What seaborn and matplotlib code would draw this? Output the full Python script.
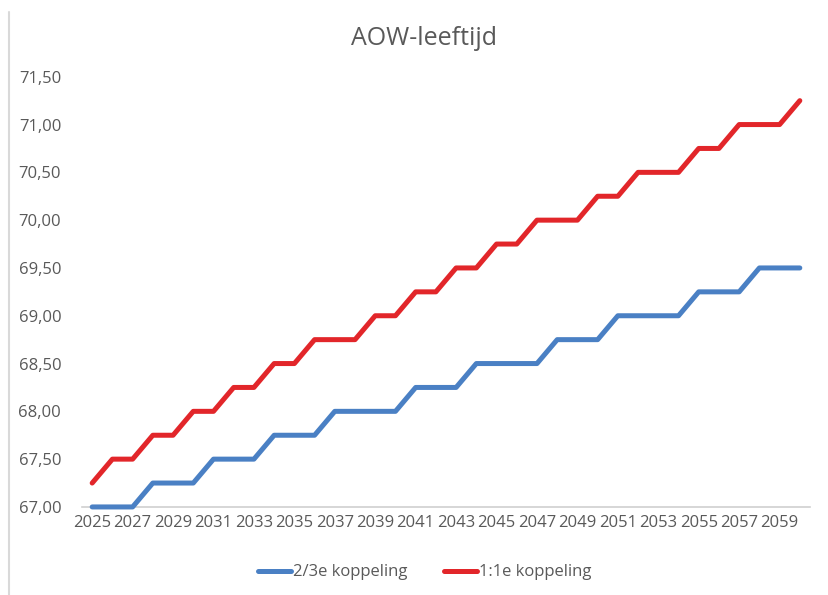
import matplotlib
matplotlib.use('Agg')
import matplotlib.pyplot as plt
import matplotlib.lines as mlines
import seaborn as sns
import pandas as pd

years = list(range(2025, 2061))

koppeling_2_3 = [67.00, 67.00, 67.00, 67.25, 67.25, 67.25, 67.50, 67.50, 67.50,
                 67.75, 67.75, 67.75, 68.00, 68.00, 68.00, 68.00, 68.25, 68.25,
                 68.25, 68.50, 68.50, 68.50, 68.50, 68.75, 68.75, 68.75, 69.00,
                 69.00, 69.00, 69.00, 69.25, 69.25, 69.25, 69.50, 69.50, 69.50]

koppeling_1_1 = [67.25, 67.50, 67.50, 67.75, 67.75, 68.00, 68.00, 68.25, 68.25,
                 68.50, 68.50, 68.75, 68.75, 68.75, 69.00, 69.00, 69.25, 69.25,
                 69.50, 69.50, 69.75, 69.75, 70.00, 70.00, 70.00, 70.25, 70.25,
                 70.50, 70.50, 70.50, 70.75, 70.75, 71.00, 71.00, 71.00, 71.25]

series_names = ['2/3e koppeling', '1:1e koppeling']
y_ticks = [67.0, 67.5, 68.0, 68.5, 69.0, 69.5, 70.0, 70.5, 71.0, 71.5]

df = pd.DataFrame({
    'jaar': years * 2,
    'leeftijd': koppeling_2_3 + koppeling_1_1,
    'reeks': [series_names[0]] * len(years) + [series_names[1]] * len(years),
})

sns.set_style('white')
plt.rcParams['font.family'] = ['Open Sans', 'DejaVu Sans']

grey = '#595959'
fig = plt.figure(figsize=(8.29, 5.95), dpi=100)
ax = fig.add_axes([0.099, 0.148, 0.878, 0.723])

sns.lineplot(data=df, x='jaar', y='leeftijd', hue='reeks',
             palette={series_names[0]: '#4a80c4', series_names[1]: '#e2262a'},
             linewidth=3.6, ax=ax, legend=True)
for line in ax.lines:
    line.set_clip_on(False)

ax.set_xlim(years[0] - 0.5, years[-1] + 0.5)
ax.set_ylim(y_ticks[0], y_ticks[-1])
ax.set_xticks(years[::2])
ax.set_xticklabels([str(y) for y in years[::2]], fontsize=12, color=grey)
ax.set_yticks(y_ticks)
ax.set_yticklabels([f'{v:.2f}'.replace('.', ',') for v in y_ticks], fontsize=12, color=grey)
ax.tick_params(axis='x', length=0, pad=6)
ax.tick_params(axis='y', length=0, pad=15)
ax.set_xlabel('')
ax.set_ylabel('')

for side in ['left', 'right', 'top']:
    ax.spines[side].set_visible(False)
ax.spines['bottom'].set_color('#d0d0d0')
ax.spines['bottom'].set_linewidth(1.2)
ax.spines['bottom'].set_zorder(0)

fig.text(0.512, 0.935, 'AOW-leeftijd', ha='center', va='center', fontsize=18, color=grey)

handles, labels = ax.get_legend_handles_labels()
ax.get_legend().remove()
fig.legend(handles, labels, loc='center', bbox_to_anchor=(0.512, 0.038), ncol=2,
           frameon=False, fontsize=12, labelcolor=grey, handlelength=2.0,
           handletextpad=0.1, columnspacing=2.2)

# thin border on the left side of the screenshot
fig.add_artist(mlines.Line2D([0.0105, 0.0105], [0.0, 0.98], color='#d9d9d9', linewidth=1.5))

fig.savefig('out.png', dpi=100)
plt.close(fig)
